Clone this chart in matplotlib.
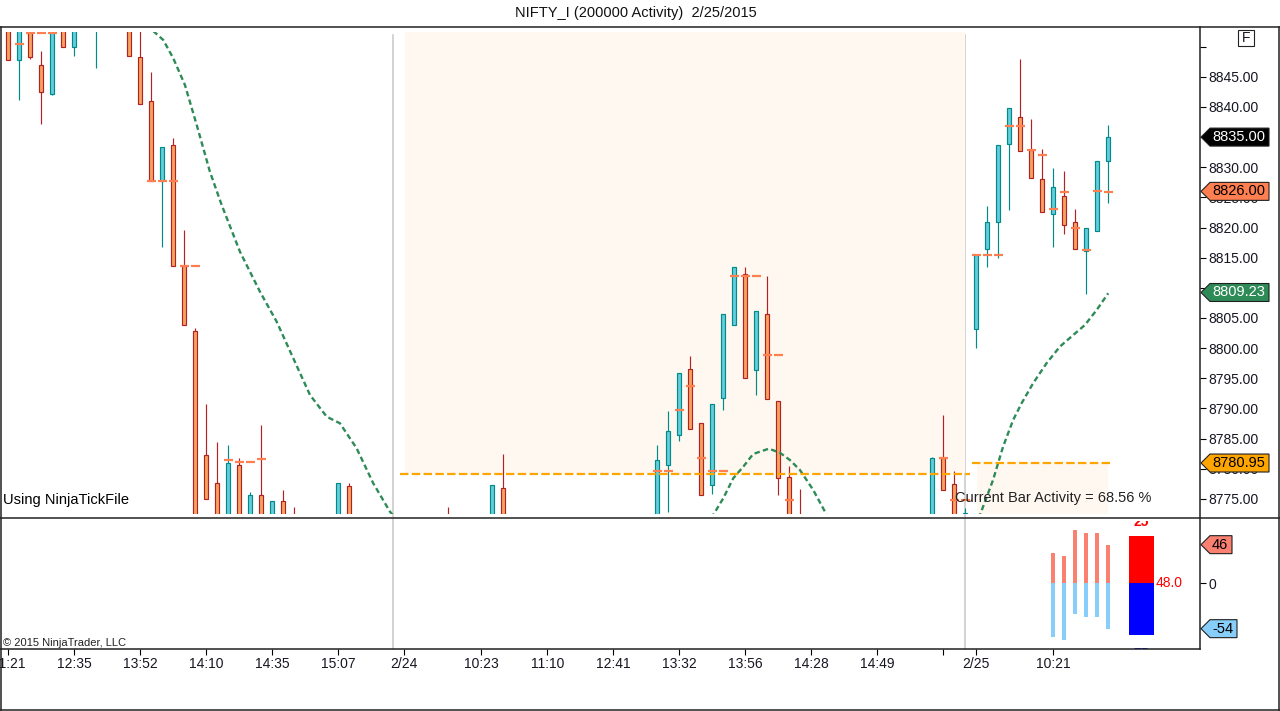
import matplotlib
matplotlib.use("Agg")
import matplotlib.pyplot as plt
from matplotlib.lines import Line2D
from matplotlib.patches import Polygon, Rectangle
from matplotlib.transforms import blended_transform_factory

plt.rcParams["font.family"] = ["Liberation Sans", "DejaVu Sans"]

W, H = 1280, 711

# ---- candles (bar slot, o/h/l/c); ends past the panel edges are guesses ----
bar_idx = [0, 1, 2, 3, 4, 5, 6, 8, 11, 12, 13, 14, 15, 16, 17, 18, 19, 20, 21, 22,
           23, 24, 25, 26, 30, 31, 40, 44, 45, 59, 60, 61, 62, 63, 64, 65, 66, 67,
           68, 69, 70, 71, 72, 84, 85, 86, 87, 88, 89, 90, 91, 92, 93, 94, 95, 96,
           97, 98, 99, 100]
bar_open = [8856.0, 8847.8, 8855.0, 8846.9, 8842.2, 8856.0, 8849.9, 8853.2, 8857.0, 8848.3,
            8841.0, 8827.8, 8833.7, 8813.6, 8802.9, 8782.3, 8777.7, 8770.0, 8780.7, 8770.0,
            8775.7, 8770.0, 8774.7, 8772.0, 8770.0, 8777.2, 8771.5, 8770.0, 8776.8, 8770.0,
            8780.6, 8785.6, 8796.6, 8787.6, 8777.3, 8791.8, 8803.9, 8812.3, 8796.3, 8805.7,
            8791.3, 8778.7, 8771.5, 8770.0, 8781.8, 8777.5, 8770.0, 8803.1, 8816.4, 8820.9,
            8833.8, 8838.4, 8832.8, 8828.0, 8822.2, 8825.3, 8820.9, 8816.1, 8819.5, 8831.0]
bar_high = [8857.0, 8857.0, 8856.0, 8849.3, 8856.0, 8857.0, 8856.0, 8856.0, 8858.0, 8853.5,
            8845.8, 8833.3, 8834.8, 8819.6, 8803.3, 8790.7, 8784.4, 8784.0, 8781.7, 8776.2,
            8787.2, 8774.7, 8776.4, 8773.6, 8777.7, 8777.6, 8773.7, 8777.3, 8782.4, 8784.0,
            8789.5, 8795.8, 8798.7, 8787.6, 8790.8, 8805.6, 8813.4, 8813.5, 8806.1, 8811.9,
            8791.3, 8780.4, 8776.7, 8782.0, 8788.9, 8779.7, 8773.5, 8815.4, 8823.5, 8833.7,
            8839.8, 8848.0, 8838.0, 8833.0, 8829.8, 8829.4, 8823.1, 8819.9, 8831.0, 8837.0]
bar_low = [8847.8, 8841.1, 8847.9, 8837.1, 8842.0, 8849.9, 8848.4, 8846.4, 8848.4, 8840.5,
           8827.8, 8816.8, 8813.6, 8803.8, 8768.0, 8775.0, 8768.0, 8769.0, 8769.0, 8769.0,
           8769.0, 8769.0, 8769.0, 8768.0, 8769.0, 8769.0, 8768.0, 8769.0, 8769.0, 8769.0,
           8772.8, 8784.6, 8786.6, 8775.7, 8775.8, 8789.8, 8803.9, 8795.0, 8792.2, 8791.5,
           8775.7, 8769.0, 8768.0, 8769.0, 8776.5, 8769.0, 8769.0, 8800.1, 8813.5, 8814.9,
           8822.9, 8832.7, 8828.2, 8822.5, 8816.8, 8819.0, 8816.4, 8808.9, 8819.5, 8824.1]
bar_close = [8847.8, 8855.5, 8848.3, 8842.5, 8855.0, 8849.9, 8854.0, 8855.0, 8848.4, 8840.5,
             8827.8, 8833.3, 8813.6, 8803.8, 8769.0, 8775.0, 8769.0, 8780.9, 8770.0, 8775.7,
             8770.0, 8774.7, 8770.0, 8769.0, 8777.7, 8770.0, 8769.0, 8777.3, 8770.0, 8781.5,
             8786.3, 8795.8, 8786.6, 8775.7, 8790.8, 8805.6, 8813.4, 8795.0, 8806.1, 8791.5,
             8778.5, 8770.0, 8769.0, 8781.7, 8776.5, 8770.0, 8772.7, 8815.4, 8820.9, 8833.7,
             8839.8, 8832.7, 8828.2, 8822.5, 8826.8, 8820.5, 8816.4, 8819.9, 8831.0, 8835.0]

# per-bar marks (orange dashes)
mark_idx = [1, 2, 3, 4, 13, 14, 15, 16, 17, 20, 21, 22, 23, 59, 60, 61, 62, 63, 64, 65,
            66, 67, 68, 69, 70, 71, 85, 86, 87, 88, 89, 90, 91, 92, 93, 94, 95, 96, 97,
            98, 99, 100]
mark_price = [8850.5, 8852.2, 8852.2, 8852.2, 8827.8, 8827.8, 8827.8, 8813.7, 8813.7,
              8781.4, 8781.2, 8781.2, 8781.6, 8779.7, 8779.7, 8789.7, 8793.7, 8781.8,
              8779.7, 8779.7, 8812.0, 8812.0, 8812.0, 8798.9, 8798.9, 8774.8, 8781.8,
              8774.8, 8774.8, 8815.4, 8815.4, 8815.4, 8836.9, 8836.9, 8832.8, 8832.1,
              8823.0, 8825.9, 8820.0, 8816.3, 8826.1, 8825.9]

# moving average, visible pieces only
ma1_x = [12.6, 13.25, 14.09, 15.0, 16.06, 17.13, 18.33, 19.40, 21.06, 22.88, 24.40,
         25.91, 27.43, 28.95, 30.15, 31.67, 33.18, 34.70, 35.2]
ma1_y = [8853.6, 8852.48, 8851.10, 8848.07, 8843.64, 8837.01, 8829.26, 8823.74, 8816.0,
         8809.36, 8804.39, 8798.32, 8792.23, 8788.63, 8787.54, 8783.39, 8777.59, 8772.88,
         8771.8]
ma2_x = [63.9, 64.18, 65.0, 65.91, 66.82, 67.72, 69.15, 70.15, 71.06, 71.97, 73.18, 74.33, 74.6]
ma2_y = [8771.8, 8772.61, 8775.1, 8778.42, 8780.34, 8782.45, 8783.33, 8782.66, 8781.45,
         8779.8, 8776.48, 8772.61, 8771.8]
ma3_x = [88.2, 88.4, 89.53, 90.44, 91.36, 92.12, 93.17, 94.39, 95.6, 96.82, 97.88, 98.95, 100.0]
ma3_y = [8771.8, 8772.61, 8778.14, 8783.66, 8788.1, 8790.85, 8794.17, 8797.49, 8800.24,
         8802.18, 8803.84, 8806.33, 8809.1]

level_prev = 8779.18
level_now = 8780.95

# lower panel: buy/sell activity %
act_idx = [95, 96, 97, 98, 99, 100]
act_up = [36, 32, 64, 60, 60, 46]
act_dn = [-64, -68, -36, -40, -40, -54]
cur_up, cur_dn = 56, -61

price_ticks = [8775, 8780, 8785, 8790, 8795, 8800, 8805, 8810, 8815, 8820, 8825, 8830,
               8835, 8840, 8845, 8850]
time_pos = [0, 6, 12, 18, 24, 30, 36, 43, 49, 55, 61, 67, 73, 79, 85, 88, 95]
time_lab = ["11:21", "12:35", "13:52", "14:10", "14:35", "15:07", "2/24", "10:23", "11:10",
            "12:41", "13:32", "13:56", "14:28", "14:49", "", "2/25", "10:21"]
sessions = [35, 87]

UP_FILL, UP_EDGE = "#66CCDD", "#008B8B"
DN_FILL, DN_EDGE = "#F4A460", "#B22222"
TXT = "#161622"


def fx(x):
    return x / W


def fy(y):
    return 1 - y / H


fig = plt.figure(figsize=(W / 100, H / 100), dpi=100)
ax = fig.add_axes([0, fy(514), 1200 / W, (514 - 31.5) / H])
ax2 = fig.add_axes([0, fy(649), 1200 / W, (649 - 520.5) / H])
for a in (ax, ax2):
    a.patch.set_visible(False)
    for s in a.spines.values():
        s.set_visible(False)
    a.set_xlim(-0.7545, 108.345)

# session separators under everything
for s in sessions:
    tr = blended_transform_factory(ax.transData, fig.transFigure)
    fig.add_artist(Line2D([s, s], [fy(35), fy(649)], transform=tr, color="#C8C8C8",
                          lw=1.1, zorder=-1))

# shaded activity zones
ax.add_patch(Rectangle((36.05, 8779.3), 86.95 - 36.05, 8853 - 8779.3, fc="#FFF8F0",
                       ec="none", zorder=0.5))
ax.add_patch(Rectangle((88.03, 8770), 100.0 - 88.03, level_now - 8770, fc="#FFF8F0",
                       ec="none", zorder=0.5))

# candles
for i, o, h, l, c in zip(bar_idx, bar_open, bar_high, bar_low, bar_close):
    up = c >= o
    fill, edge = (UP_FILL, UP_EDGE) if up else (DN_FILL, DN_EDGE)
    ax.vlines(i, l, h, color=edge, lw=0.85, zorder=2)
    ax.bar(i, abs(c - o), bottom=min(o, c), width=0.33, color=fill, edgecolor=edge,
           linewidth=0.85, zorder=3)

ax.hlines(mark_price, [m - 0.4 for m in mark_idx], [m + 0.4 for m in mark_idx],
          color="#FF7F50", lw=1.6, zorder=4)

for xs, ys in ((ma1_x, ma1_y), (ma2_x, ma2_y), (ma3_x, ma3_y)):
    ax.plot(xs, ys, color="#2E8B57", lw=1.7, dashes=(2.3, 1.4), zorder=5)

ax.plot([35.61, 87.43], [level_prev, level_prev], color="#FFA500", lw=1.6,
        dashes=(3.8, 1.5), zorder=5)
ax.plot([87.58, 100.45], [level_now, level_now], color="#FFA500", lw=1.6,
        dashes=(3.8, 1.5), zorder=5)

ax.text(3.3 / 1200, (514 - 500) / 482.5, "Using NinjaTickFile", transform=ax.transAxes,
        fontsize=10.5, color="black", ha="left", va="center")
ax.text(86.06, 8775.15, "Current Bar Activity = 68.56 %", fontsize=10.5, color="#222222",
        ha="left", va="center", zorder=6)

ax.set_ylim(8772.496, 8852.512)
ax.yaxis.tick_right()
ax.set_yticks(price_ticks)
ax.set_yticklabels([f"{p:.2f}" if p != 8850 else "" for p in price_ticks])
ax.set_xticks([])
ax.tick_params(axis="y", direction="out", length=4.3, width=0.8, pad=1.5,
               labelsize=10, colors="black", labelcolor=TXT)

# lower panel
ax2.bar(act_idx, act_up, width=0.39, color="#FA8072", zorder=2)
ax2.bar(act_idx, act_dn, width=0.39, color="#87CEFA", zorder=2)
ax2.bar(103.05, cur_up, width=2.27, color="#FF0000", zorder=2)
ax2.bar(103.05, cur_dn, width=2.27, color="#0000FF", zorder=2)
ax2.text(104.33, 0, "48.0", color="#FF0000", fontsize=10, ha="left", va="center")
ax2.text(103.0, 65, "25", color="#FF0000", fontsize=10, ha="center", va="bottom",
         fontweight="bold", clip_on=True)
ax2.text(103.0, -76.4, "75", color="#0000FF", fontsize=10, ha="center", va="top",
         fontweight="bold", clip_on=True)
ax2.set_ylim(-78.21, 74.76)
ax2.yaxis.tick_right()
ax2.set_yticks([0])
ax2.set_yticklabels(["0"])
ax2.set_xticks(time_pos)
ax2.set_xticklabels(time_lab)
ax2.tick_params(axis="y", direction="out", length=4.3, width=0.8, pad=1.5,
                labelsize=10, colors="black", labelcolor=TXT)
ax2.tick_params(axis="x", direction="out", length=4, width=0.8, pad=2,
                labelsize=10, colors="black", labelcolor=TXT)


# price flags on the right axis
def flag(axis, yval, label, fc, tc, right, half):
    tr = blended_transform_factory(fig.transFigure, axis.transData)
    pts = [(fx(1201), yval), (fx(1210), yval + half), (fx(right), yval + half),
           (fx(right), yval - half), (fx(1210), yval - half)]
    fig.add_artist(Polygon(pts, closed=True, transform=tr, fc=fc, ec="#202020", lw=0.8,
                           zorder=10))
    fig.text(fx(1212), yval, label, transform=tr, ha="left", va="center", color=tc,
             fontsize=10.5, zorder=11)


flag(ax, 8835.0, "8835.00", "black", "white", 1269, 1.49)
flag(ax, 8826.0, "8826.00", "#FF7F50", "black", 1269, 1.49)
flag(ax, 8809.23, "8809.23", "#2E8B57", "white", 1269, 1.49)
flag(ax, 8780.95, "8780.95", "#FFA500", "black", 1269, 1.49)
flag(ax2, 46, "46", "#FA8072", "black", 1232, 10.7)
flag(ax2, -54, "-54", "#87CEFA", "black", 1237, 10.7)

# frame lines
FR = dict(color="#222222", lw=1.1, zorder=3)
for xs, ys in (([0, W], [27, 27]), ([0, W], [710, 710]), ([0.5, 0.5], [27, 710]),
               ([W - 0.7, W - 0.7], [27, 710]), ([0, W], [518.3, 518.3]),
               ([0, 1200], [649.3, 649.3]), ([1200, 1200], [27, 649.3])):
    fig.add_artist(Line2D([fx(v) for v in xs], [fy(v) for v in ys],
                          transform=fig.transFigure, **FR))

fig.add_artist(Rectangle((fx(1238), fy(46)), 16 / W, 16 / H, transform=fig.transFigure,
                         fill=False, ec="#222222", lw=0.8))
fig.text(fx(1246), fy(38), "F", ha="center", va="center", fontsize=10, color=TXT)

fig.text(fx(636), fy(13.3), "NIFTY_I (200000 Activity)  2/25/2015", ha="center",
         va="center", fontsize=10.5, color="#111111")
fig.text(fx(3), fy(643.3), "\u00a9 2015 NinjaTrader, LLC", ha="left", va="center",
         fontsize=8, color="#222222")

fig.savefig("out.png", dpi=100)
